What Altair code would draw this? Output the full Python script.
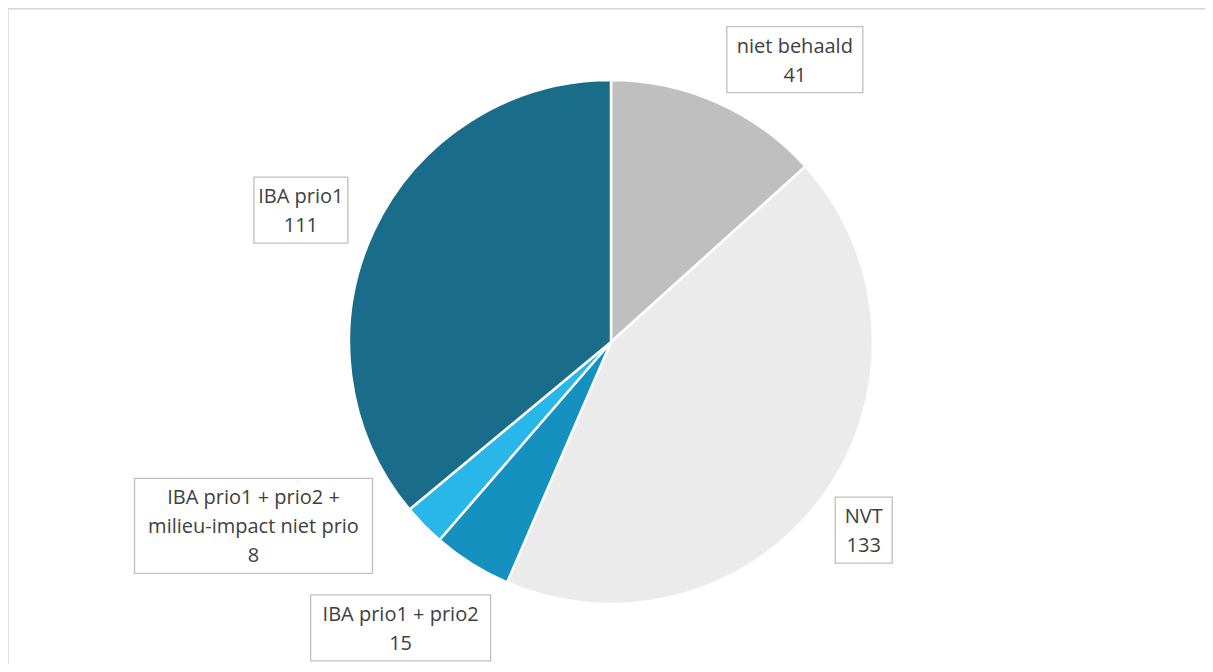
import math
import altair as alt
import pandas as pd

# ---- data ----
categories = ["niet behaald", "NVT", "IBA prio1 + prio2",
              "IBA prio1 + prio2 +\nmilieu-impact niet prio", "IBA prio1"]
values = [41, 133, 15, 8, 111]
colors = ["#BFBFBF", "#EBEBEB", "#1591BF", "#29B6E8", "#1A6D8A"]

# ---- label styling (placement relative to slice mid-angle) ----
label_angle_shift = [9.1, 1.0, 4.2, 17.2, -2.1]
label_dist = [337, 315, 355, 402, 337]
box_width = [136, 57, 180, 238, 94]

W, H = 1197, 656
CX, CY, R = 603, 334, 262
LINE_H = 29

total = sum(values)
rows = []
cum = 0
for i, (c, v) in enumerate(zip(categories, values)):
    mid = (cum + v / 2) / total * 360
    cum += v
    ang = math.radians(mid + label_angle_shift[i])
    lx = CX + label_dist[i] * math.sin(ang)
    ly = CY - label_dist[i] * math.cos(ang)
    text = f"{c}\n{v}"
    n_lines = text.count("\n") + 1
    bh = n_lines * LINE_H + 8
    rows.append(dict(cat=c, value=v, idx=i, text=text, lx=lx,
                     ty=ly - (n_lines - 1) * LINE_H / 2 + 1.5,
                     x1=lx - box_width[i] / 2, x2=lx + box_width[i] / 2,
                     y1=ly - bh / 2, y2=ly + bh / 2))
df = pd.DataFrame(rows)

color_scale = alt.Scale(domain=categories, range=colors)

frame_top = alt.Chart(df).mark_rule(color="#D9D9D9", strokeWidth=1.5).encode(
    x=alt.value(-1), x2=alt.value(W + 30), y=alt.value(0.5))
frame_left = alt.Chart(df).mark_rule(color="#D9D9D9", strokeWidth=1.5).encode(
    x=alt.value(-0.5), y=alt.value(0), y2=alt.value(H + 20))

pie = alt.Chart(df).mark_arc(outerRadius=R, stroke="white", strokeWidth=2.5).encode(
    theta=alt.Theta("value:Q", stack=True),
    color=alt.Color("cat:N", scale=color_scale, legend=None),
    order=alt.Order("idx:Q"),
    x=alt.value(CX),
    y=alt.value(CY),
)

boxes = alt.Chart(df).mark_rect(fill="white", stroke="#BFBFBF", strokeWidth=1.3).encode(
    x=alt.X("x1:Q", scale=None, axis=None),
    x2="x2:Q",
    y=alt.Y("y1:Q", scale=None, axis=None),
    y2="y2:Q",
)

labels = alt.Chart(df).mark_text(
    font="Open Sans", fontSize=20, color="#404040", lineBreak="\n",
    lineHeight=LINE_H, align="center", baseline="middle",
).encode(
    x=alt.X("lx:Q", scale=None, axis=None),
    y=alt.Y("ty:Q", scale=None, axis=None),
    text="text:N",
)

chart = alt.layer(frame_top, frame_left, pie, boxes, labels).properties(
    width=W, height=H, padding=0,
    autosize=alt.AutoSizeParams(type="none"),
).configure_view(stroke=None)

chart.save("out.html", embed_options={"renderer": "svg", "actions": False})
